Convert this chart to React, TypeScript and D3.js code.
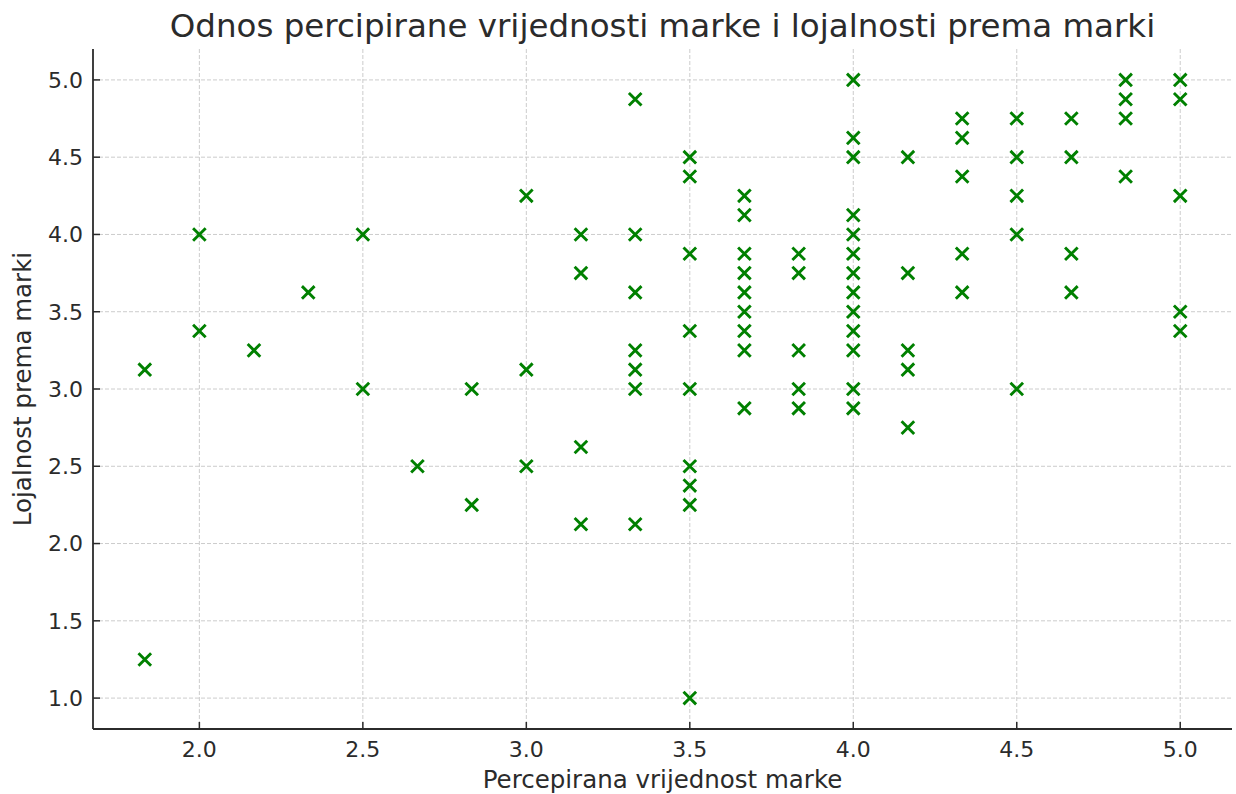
import React from 'react';
import * as d3 from 'd3';

// ocjene po ispitaniku: x = percipirana vrijednost, y = lojalnost
const perceivedValue = [
    1.833, 1.833,
    2.0, 2.0,
    2.167,
    2.333,
    2.5, 2.5,
    2.667,
    2.833, 2.833,
    3.0, 3.0, 3.0,
    3.167, 3.167, 3.167, 3.167,
    3.333, 3.333, 3.333, 3.333, 3.333, 3.333, 3.333,
    3.5, 3.5, 3.5, 3.5, 3.5, 3.5, 3.5, 3.5, 3.5,
    3.667, 3.667, 3.667, 3.667, 3.667, 3.667, 3.667, 3.667, 3.667,
    3.833, 3.833, 3.833, 3.833, 3.833,
    4.0, 4.0, 4.0, 4.0, 4.0, 4.0, 4.0, 4.0, 4.0, 4.0, 4.0, 4.0, 4.0,
    4.167, 4.167, 4.167, 4.167, 4.167,
    4.333, 4.333, 4.333, 4.333, 4.333,
    4.5, 4.5, 4.5, 4.5, 4.5,
    4.667, 4.667, 4.667, 4.667,
    4.833, 4.833, 4.833, 4.833,
    5.0, 5.0, 5.0, 5.0, 5.0,
];
const brandLoyalty = [
    3.125, 1.25,
    4.0, 3.375,
    3.25,
    3.625,
    4.0, 3.0,
    2.5,
    3.0, 2.25,
    4.25, 3.125, 2.5,
    4.0, 3.75, 2.625, 2.125,
    4.875, 4.0, 3.625, 3.25, 3.125, 3.0, 2.125,
    4.5, 4.375, 3.875, 3.375, 3.0, 2.5, 2.375, 2.25, 1.0,
    4.25, 4.125, 3.875, 3.75, 3.625, 3.5, 3.375, 3.25, 2.875,
    3.875, 3.75, 3.25, 3.0, 2.875,
    5.0, 4.625, 4.5, 4.125, 4.0, 3.875, 3.75, 3.625, 3.5, 3.375, 3.25, 3.0, 2.875,
    4.5, 3.75, 3.25, 3.125, 2.75,
    4.75, 4.625, 4.375, 3.875, 3.625,
    4.75, 4.5, 4.25, 4.0, 3.0,
    4.75, 4.5, 3.875, 3.625,
    5.0, 4.875, 4.75, 4.375,
    5.0, 4.875, 4.25, 3.5, 3.375,
];
const xTicks = [2.0, 2.5, 3.0, 3.5, 4.0, 4.5, 5.0];
const yTicks = [1.0, 1.5, 2.0, 2.5, 3.0, 3.5, 4.0, 4.5, 5.0];

const W = 1236;
const H = 794;
const left = 93;
const right = 1232;
const top = 49;
const bottom = 729;
const FONT = '"DejaVu Sans", sans-serif';
const TEXT = '#2b2b2b';

const App = () => {
    const [xMin, xMax] = d3.extent(perceivedValue) as [number, number];
    const [yMin, yMax] = d3.extent(brandLoyalty) as [number, number];
    const xPad = (xMax - xMin) * 0.05;
    const yPad = (yMax - yMin) * 0.05;
    const x = d3.scaleLinear([xMin - xPad, xMax + xPad], [left, right]);
    const y = d3.scaleLinear([yMin - yPad, yMax + yPad], [bottom, top]);
    const m = 6.3;

    return (
        <svg
            width={W}
            height={H}
            style={{ position: 'absolute', left: 0, top: 0, background: '#fff' }}
            fontFamily={FONT}
        >
            <rect width={W} height={H} fill='#fff' />
            {/* grid */}
            {xTicks.map(t => (
                <line
                    key={'gx' + t}
                    x1={x(t)}
                    x2={x(t)}
                    y1={top}
                    y2={bottom}
                    stroke='#cccccc'
                    strokeWidth={1}
                    strokeDasharray='4,2'
                />
            ))}
            {yTicks.map(t => (
                <line
                    key={'gy' + t}
                    x1={left}
                    x2={right}
                    y1={y(t)}
                    y2={y(t)}
                    stroke='#cccccc'
                    strokeWidth={1}
                    strokeDasharray='4,2'
                />
            ))}
            {/* markers */}
            {perceivedValue.map((v, i) => {
                const cx = x(v);
                const cy = y(brandLoyalty[i]);
                return (
                    <path
                        key={i}
                        d={`M${cx - m},${cy - m}L${cx + m},${cy + m}M${cx - m},${cy + m}L${cx + m},${cy - m}`}
                        stroke='#008000'
                        strokeWidth={2.9}
                        fill='none'
                    />
                );
            })}
            {/* spines */}
            <line x1={left} x2={left} y1={top} y2={bottom} stroke={TEXT} strokeWidth={1.8} />
            <line x1={left} x2={right} y1={bottom} y2={bottom} stroke={TEXT} strokeWidth={1.8} />
            {/* ticks */}
            {xTicks.map(t => (
                <g key={'tx' + t}>
                    <line x1={x(t)} x2={x(t)} y1={bottom} y2={bottom - 7} stroke={TEXT} strokeWidth={1.5} />
                    <text x={x(t)} y={757} textAnchor='middle' fontSize={22} fill={TEXT}>
                        {t.toFixed(1)}
                    </text>
                </g>
            ))}
            {yTicks.map(t => (
                <g key={'ty' + t}>
                    <line x1={left} x2={left + 7} y1={y(t)} y2={y(t)} stroke={TEXT} strokeWidth={1.5} />
                    <text x={83} y={y(t)} dy='0.36em' textAnchor='end' fontSize={22} fill={TEXT}>
                        {t.toFixed(1)}
                    </text>
                </g>
            ))}
            <text x={(left + right) / 2} y={788} textAnchor='middle' fontSize={24.5} fill={TEXT}>
                Percepirana vrijednost marke
            </text>
            <text
                transform={`translate(31,${(top + bottom) / 2}) rotate(-90)`}
                textAnchor='middle'
                fontSize={24.5}
                fill={TEXT}
            >
                Lojalnost prema marki
            </text>
            <text x={(left + right) / 2} y={37} textAnchor='middle' fontSize={32.5} fill={TEXT}>
                Odnos percipirane vrijednosti marke i lojalnosti prema marki
            </text>
        </svg>
    );
};

export default App;
